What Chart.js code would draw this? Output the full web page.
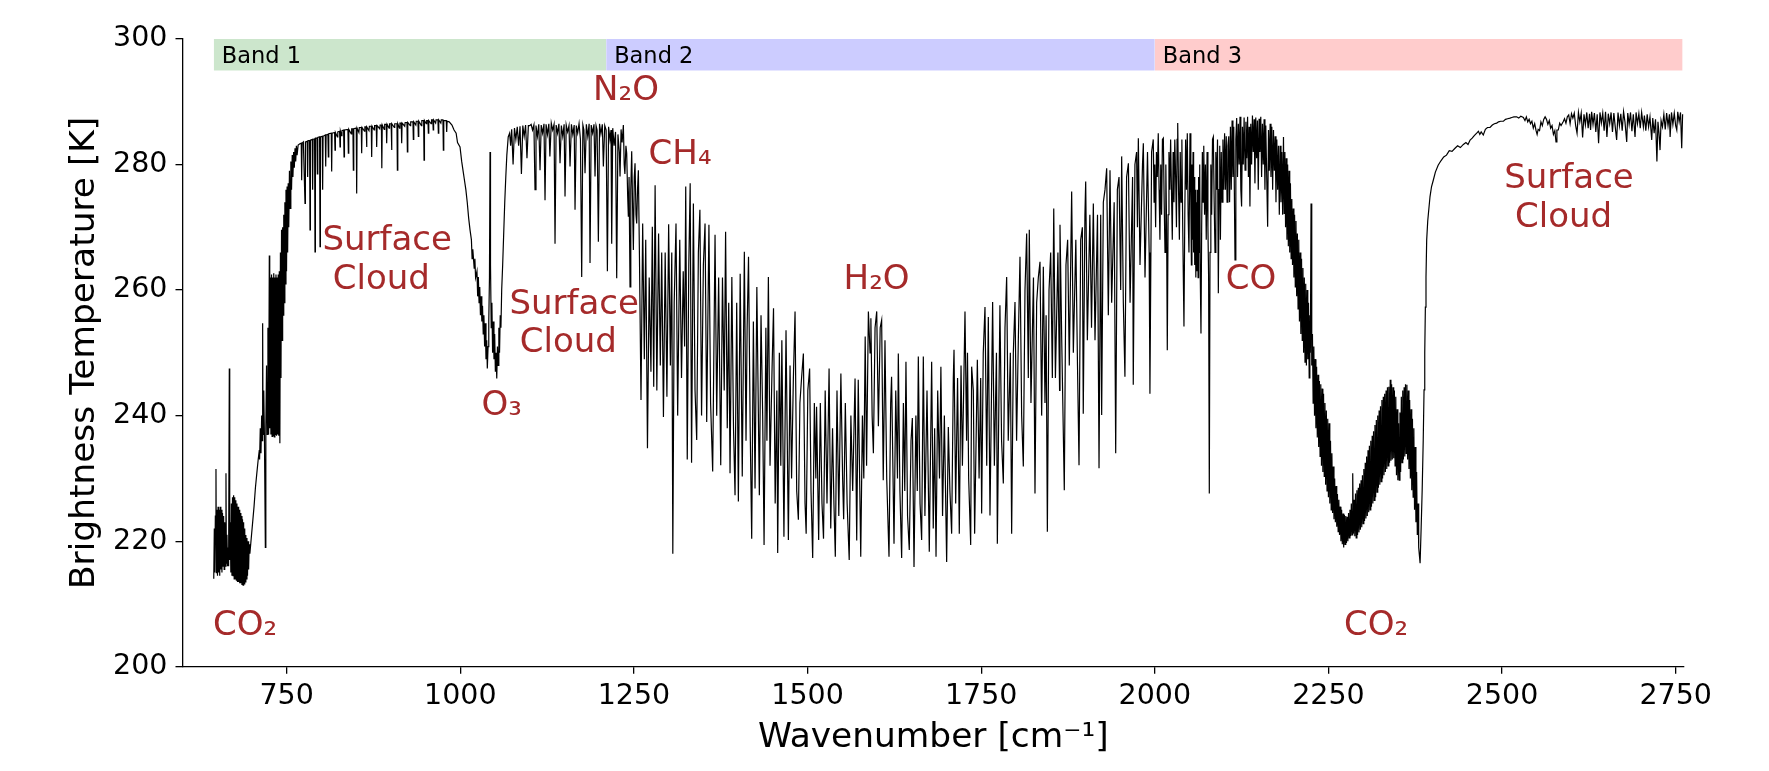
<!DOCTYPE html>
<html><head><meta charset="utf-8">
<script src="https://cdn.jsdelivr.net/npm/chart.js@4/dist/chart.umd.min.js"></script>
<style>html,body{margin:0;padding:0;background:#fff;}#wrap{width:1769px;height:771px;}</style>
</head><body><div id="wrap"><canvas id="c" width="1769" height="771"></canvas></div>
<script>
// ---------- data ----------
// spectrum points: [wavenumber cm^-1, brightness temperature K]
const band1Spectrum = [[645,214],[645.8,222],[646.5,215],[647.3,224],[648.2,231.5],[648.8,215],[649.6,225],[650.4,214.5],[651.2,225.5],[652,215],[652.8,225],[653.6,214.5],[654.4,225.5],[655.2,215.5],[656,225],[656.8,215],[657.6,224.5],[658.4,216],[659.2,224],[660,215.5],[660.8,223],[661.6,216],[662.6,230.8],[663.2,216.5],[664,221],[664.8,216],[665.6,219],[666.4,216],[667.4,247.5],[668,217],[668.8,223],[669.6,215],[670.4,226],[671.2,214.5],[672,227],[672.8,214.5],[673.6,227.3],[674.4,214],[675.2,227],[676,214],[676.8,226.5],[677.6,213.8],[678.4,226],[679.2,213.5],[680,225.5],[680.8,213.5],[681.6,225],[682.4,213.3],[683.2,224.5],[684,213.3],[684.8,224],[685.6,213],[686.4,223.5],[687.2,213],[688,223],[688.8,213.2],[689.6,222],[690.4,213.5],[691.2,221],[692,214],[692.8,220.5],[693.6,214.5],[694.4,220],[695.2,215.5],[696,219.5],[697,218],[699,220.5],[701,223],[703,225.5],[705,228.5],[707,230.8],[709,233],[710.6,234.5],[711,233],[712,238],[713,234],[714,240],[715,236],[715.4,254.7],[716,237],[717,244],[718,236.5],[719.3,219],[720,238],[721,248],[722,237],[723,254],[724,237],[725,265.5],[725.6,238],[726.5,262],[727.3,237],[728.2,262.5],[729,236.7],[729.8,262],[730.6,236.8],[731.4,262.7],[732.2,236.6],[733,262],[733.8,237],[734.6,262.5],[735.4,236.8],[736.2,262],[737,237],[737.8,262.5],[738.6,236.8],[739.4,263],[740.2,235.6],[741,266],[741.8,246],[742.6,269.6],[743.4,252],[744.2,270],[745,256],[745.8,272],[746.6,258],[747.4,274],[748.2,261],[749,276],[749.8,263],[750.6,276.5],[751.4,266],[752.2,277],[753,270],[754,279],[755,273],[756,280.5],[757,276],[758,281.5],[759,278],[760,282],[761,279.5],[762,282.6],[763,280.5],[764,283],[765,281.5],[766.5,283.1],[769,283.3],[771,283.4],[771.6,277.5],[772.2,283.4],[774,283.6],[776.4,273.8],[777,283.6],[779.5,283.7],[780.2,278],[780.8,283.8],[783,283.8],[783.6,269.6],[784.2,283.9],[786.8,284],[787.4,276],[788,284],[790.2,284.1],[790.8,266.1],[791.4,284.2],[793.6,284.2],[794.2,278.5],[794.8,284.3],[797.4,284.4],[798,266.9],[798.6,284.4],[801.2,284.5],[801.8,276],[802.4,284.5],[805.6,284.7],[806.2,279.7],[806.8,284.7],[809.4,284.8],[810,281.2],[810.6,284.9],[814.2,285],[814.8,278.9],[815.4,285],[819,285.1],[819.6,282.3],[820.2,285.1],[823,284.4],[823.6,285.2],[826.2,285.3],[826.8,282.8],[827.4,285.3],[829,284.6],[829.6,285.4],[832,285.5],[832.6,281.2],[833.2,285.5],[838.2,285.6],[838.8,281.8],[839.4,285.6],[843,284.9],[843.6,285.7],[845.4,285.7],[846,279.1],[846.6,285.7],[850.2,285.8],[850.8,275.4],[851.4,285.8],[854,285.1],[854.6,285.9],[857.4,285.9],[858,281.8],[858.6,285.9],[862,285.3],[862.6,286],[864.4,286],[865,282.8],[865.6,286],[868.5,285.4],[869.1,286.1],[871.8,286.1],[872.4,281.2],[873,286.1],[876,285.5],[876.6,286.2],[879,286.2],[879.6,282.8],[880.2,286.2],[884,285.7],[884.6,286.3],[886.4,286.3],[887,279.4],[887.6,286.3],[890.5,285.6],[891.1,286.4],[893.4,286.4],[894,283.4],[894.6,286.4],[897.5,285.8],[898.1,286.5],[900.4,286.5],[901,282.3],[901.6,286.5],[905,285.9],[905.6,286.5],[908.8,286.5],[909.4,279.1],[910,286.5],[912.5,285.8],[913.1,286.6],[915,286.6],[915.6,283.4],[916.2,286.6],[920,286.1],[920.6,286.7],[923.2,286.7],[923.8,282],[924.4,286.7],[928,286.2],[928.6,286.8],[931.8,286.8],[932.4,284],[933,286.8],[936,286.3],[936.6,286.9],[939,286.9],[939.6,284.5],[940.2,286.9],[944,286.2],[944.6,287],[947.2,287],[947.8,280.7],[948.4,287],[951,286.5],[951.6,287],[953.4,287],[954,285],[954.6,287],[958,286.5],[958.6,287.1],[960.4,287.1],[961,285.5],[961.6,287.1],[964.5,286.6],[965.1,287.1],[967.8,287.1],[968.4,285],[969,287.1],[972,286.6],[972.6,287.1],[975,287.1],[975.6,282.3],[976.2,287],[979.8,287],[980.4,285.2],[981,286.9],[984,286.8],[988,286.3],[991,285.5],[994,285],[996,283.5],[999.6,282.8],[1002,280.5],[1004,279],[1006,277.5],[1008,276],[1010,274],[1012,271.5],[1014,269.6],[1016,268],[1017,265],[1018,266.5],[1020,263.5],[1021,265],[1022,262],[1024,263],[1025,259],[1026,262.1],[1027,258],[1028,260.5],[1029,256],[1030,259],[1031,255],[1032,257.5],[1033,253],[1034,256],[1035,251],[1036,254.7],[1037,249],[1038,252],[1038.9,247.5],[1040,251],[1041,255],[1042,262],[1042.8,282],[1043.5,264],[1044.5,254],[1045.5,258],[1046.5,250],[1047.5,255],[1048.5,249],[1049.5,253],[1050.5,247],[1051.5,250],[1052.5,245.9],[1053.5,251],[1054.5,248],[1055.5,254],[1056.5,250],[1057.5,256],[1058.5,254],[1059.6,260],[1061,264],[1062.5,269],[1064,274],[1065.5,278],[1067,281.5],[1069,284.4],[1071,285],[1072.5,283],[1074,285.6],[1076,280],[1078,285.8],[1080,284],[1082,286],[1084,283],[1086,286.1],[1088,278.5],[1090,286.2],[1092,284.5],[1094,286.3],[1096,281],[1098,286.2],[1100,286.2],[1102,286.4],[1104,285.5],[1106,286.3],[1107.6,276],[1109,286.2],[1111,284.5],[1113,286.4],[1114.8,279.1],[1116.5,286.3],[1118.5,285],[1120.5,286.5],[1122,274.3],[1123.5,286.4],[1125.5,284.8],[1127.5,286.5],[1129,281.3],[1131,286.6],[1133,285.5],[1135,286.4],[1136.4,267.4],[1138,286.3],[1140,285],[1142,286.5],[1143.6,280.2],[1145.5,286.2],[1147.5,284.5],[1149.5,286.4],[1150.8,274.9],[1152.5,286.3],[1154.5,285.2],[1156.5,286.2],[1158,279.7],[1160,286.4],[1162,284.8],[1164,286.3],[1165.2,272.8],[1167,286.2],[1169,285],[1171,286.5],[1173,284],[1174.8,262.1],[1176.5,286.3],[1178,285.5],[1179.6,278.6],[1181.5,286.4],[1183.5,284.5],[1185.5,286.5],[1186.8,264.3],[1188.5,286.3],[1190.5,285],[1192.5,286.4],[1194,278.1],[1195.5,286.2],[1197,285.5],[1198.8,267.7],[1200.5,286.5],[1202.5,284.9],[1204.5,286.4],[1206,279.7],[1208,286.2],[1210,285.5]];

const band2Spectrum = [[1211.8,263],[1213.5,286],[1215.5,284],[1217,285.5],[1218,267.4],[1219.5,285.8],[1221.5,283],[1223.5,285.2],[1225.2,261.9],[1227,284.8],[1229,282],[1230,278.1],[1231.5,285.6],[1233,283.5],[1234.8,286.3],[1236,280],[1237,278.5],[1238.5,283],[1239.6,281.8],[1241,275],[1242,271.7],[1243,278],[1244.4,260.5],[1245.5,276],[1246.8,282.1],[1248,274],[1249.2,266.4],[1250.5,278],[1251.6,280.2],[1253,272],[1254,270.6],[1255.2,276],[1256.4,279.1],[1258,265],[1260.2,242.5],[1262.6,270.6],[1265,249],[1267,268],[1269.5,234.8],[1272,262],[1274.5,247],[1276.5,270.1],[1278.5,244.6],[1280.5,276.7],[1283,244],[1285.5,269],[1288,248],[1290,266],[1292.5,239.8],[1295,266],[1297.5,243],[1300,270.5],[1302.5,248],[1304.5,266],[1306,218],[1308,258],[1310.6,270.6],[1313,240],[1316,268],[1318.5,246],[1321,263],[1323,251],[1324.6,276.5],[1326.8,233],[1329,264],[1331,277],[1333,232.5],[1335.6,273.8],[1338,244],[1340.4,236.1],[1342.8,266],[1345,272.8],[1347.4,240],[1350,264],[1352.4,270.6],[1354.8,239],[1358,270.4],[1360.4,242],[1363.4,231.1],[1366.8,268.8],[1369.2,240],[1372,262],[1375,232.1],[1377.5,262],[1380,244],[1382,269.3],[1384.4,238],[1386.5,258],[1388.4,230.8],[1391,262.1],[1393.4,238],[1395.6,227.3],[1398,258],[1400.4,226.3],[1403,262.6],[1406,230.3],[1409,266.1],[1411.4,236],[1413,254],[1415,265.3],[1417.4,238],[1419.6,220.4],[1422,255],[1424.4,228.4],[1427,260.5],[1430.6,227.3],[1433,256],[1435.4,240],[1437.4,219.4],[1440,254],[1441.5,236],[1443.6,262.1],[1446,232],[1449,248],[1451,257.1],[1453.4,226],[1455.8,244],[1457,218.1],[1459.4,250],[1461.5,232],[1463,252],[1466,220.7],[1469,253.6],[1472.4,220.2],[1474.8,248],[1477,230],[1479.6,246],[1482,256.6],[1484.4,228],[1486.8,223.4],[1489,242],[1491.4,246],[1494,249.9],[1496.4,226],[1498,221.2],[1500.4,244],[1503,247.5],[1505,228],[1507.4,217.3],[1509.8,242],[1512,230],[1513,241.4],[1516,220.2],[1518.4,242],[1520.8,226],[1523,220.4],[1525.4,244],[1528,226],[1531,247.5],[1533.4,222],[1536,238],[1538,226],[1540,217.5],[1542.4,244],[1545,224],[1548,246.7],[1550.5,230],[1552,223.5],[1554.4,242],[1557,226],[1560,217],[1562.4,240],[1565,228],[1568.4,245.9],[1570.8,220.1],[1573,245.7],[1576.6,217.5],[1579,240],[1581,230],[1583,252.6],[1585,232],[1587.6,256.6],[1590,250],[1591.2,255.5],[1593,240],[1594.8,234],[1597.2,254],[1599.6,256.6],[1602,238.3],[1604.6,254],[1606.7,255.2],[1609,229.7],[1611.5,252],[1614,230],[1617.3,217.5],[1619.7,242],[1621,246.2],[1624.5,219.6],[1627,244],[1629.5,230],[1630.7,249.9],[1633,228],[1635.5,217.3],[1638,242],[1640,228],[1641.7,248.6],[1644,224],[1646.5,218.6],[1649,236],[1650.9,239.6],[1653.3,215.9],[1656,240],[1658,228],[1659.5,249.4],[1662,226],[1664.3,220.2],[1666.7,249.4],[1669,224],[1672,244],[1675.3,218.3],[1678.7,248.6],[1681,222],[1683,238],[1685,217.5],[1687.4,244],[1690,230],[1692,247.8],[1694.4,224],[1697,240],[1700.3,216.7],[1702.7,238.2],[1705,228],[1707.5,221.2],[1709.9,246],[1710.9,250.5],[1713.3,226],[1716,246],[1718.5,221.2],[1721,248],[1723,232],[1726.7,256.6],[1729,236],[1730.3,250],[1732,230],[1734.9,219.4],[1736.3,247.8],[1738.7,244],[1740.6,221.2],[1744.5,248.9],[1747,230],[1749.3,246],[1750.7,224.4],[1753,250],[1755.5,257.3],[1758,232],[1760.3,255.7],[1762.7,224.1],[1766.5,258.1],[1769,232],[1772,250],[1773.3,219.6],[1777,257.6],[1779.4,236],[1781.9,229.2],[1784.3,254],[1786.7,262.1],[1789,236],[1792,250],[1793.9,221.2],[1796.3,250],[1798.7,258.1],[1801,236],[1803.5,252],[1805.9,265.3],[1808.3,240],[1810.7,231.9],[1813.1,260],[1815.5,269],[1817.9,246],[1819.3,269.6],[1821.7,242],[1825.3,262],[1827.5,227.6],[1829.9,258],[1832.3,262],[1834.7,264.5],[1837.1,240],[1839.5,263.7],[1841.9,242],[1843.5,256],[1845.3,221.5],[1847.7,260],[1850.1,266],[1852.5,246],[1854.5,273],[1856.9,246],[1860.5,266],[1862.9,244],[1863.5,270.4],[1866,252],[1869.7,228.1],[1872.1,264],[1874.5,268],[1876.9,248],[1880.3,275.7],[1882.7,250],[1886.3,268],[1888.7,248],[1890.9,232.1],[1893.3,268],[1895.7,270],[1897,240.3],[1899.4,272],[1900.5,277.3],[1902.9,252],[1906.5,272],[1908.9,254],[1911.5,273.8],[1913.9,252],[1917.5,272],[1919.7,231.6],[1922.1,272],[1923.5,240.1],[1925.9,274],[1928.3,276],[1930.7,279.4],[1933.1,256],[1935.5,279.1],[1937.9,258],[1941.5,274],[1943.7,234],[1946.1,276],[1948.5,278],[1950.9,260],[1952.3,281.3],[1954.7,258],[1957,246.2],[1959.4,278],[1962,280.2],[1964.4,258],[1968,278],[1969,244.9],[1971.4,280],[1973.8,282],[1975,270],[1976.3,284.2],[1978.7,264],[1982.3,280],[1983.5,283.4],[1985.9,262],[1989.5,282],[1991.9,266],[1993,243.5],[1995.4,282],[1997.8,284],[1999,274],[2000,280]];

const band3Spectrum = [[2001.2,270],[2002.4,282],[2003.6,278],[2005,285],[2006.2,276],[2007.4,268],[2008.6,280],[2009.8,272],[2011,284],[2012.3,284.2],[2013.5,274],[2014.7,266],[2015.9,280],[2017,270],[2018,250.4],[2019.2,272],[2020.4,282],[2021.6,276],[2022.8,284],[2024,276],[2025.2,268],[2026.4,282],[2027.6,274],[2028.8,284],[2030,278],[2031.2,270],[2032.1,284],[2033,286.6],[2034.2,276],[2035.4,268],[2036.6,282],[2037.8,274],[2039,284],[2040.2,270],[2041.1,262],[2042,254.2],[2043.2,272],[2044.4,284],[2045.6,276],[2046.8,285],[2048,272],[2049.2,266],[2050.7,285],[2051.9,274],[2052.7,264],[2053.5,280],[2054.3,268],[2055.1,282],[2055.9,266],[2056.7,278],[2057.5,264],[2058.3,276],[2059.1,262],[2059.9,274],[2060.7,263],[2061.5,276],[2062.3,262],[2063.1,278],[2063.9,266],[2064.7,280],[2065.5,262],[2066.5,253.1],[2067.5,270],[2068.5,282],[2069.5,274],[2070.5,283],[2071.7,272],[2072.9,280],[2074.1,268],[2075.3,282],[2076.5,270],[2077.5,262],[2078.5,227.6],[2079.5,266],[2080.7,280],[2081.9,272],[2083.1,284],[2084.3,284.4],[2085.5,274],[2086.7,266],[2087.9,282],[2089.1,276],[2090.3,284],[2091.5,259.5],[2092.5,276],[2093.5,283],[2094.5,268],[2095.7,282],[2096.9,274],[2098.1,284],[2099.3,276],[2100.5,285],[2101.7,276],[2102.9,284.5],[2104.1,274],[2105.3,283],[2106.5,284.5],[2107.7,274],[2108.9,286],[2110.1,276],[2111.3,287],[2112.5,278],[2113.7,286],[2115.5,264.8],[2116.7,284],[2117.9,287.4],[2119.1,278],[2120.3,286.5],[2121.5,280],[2122.7,287.6],[2123.9,276],[2125,273.3],[2126.2,286],[2127.4,280],[2128.6,287.5],[2130,279.1],[2131.2,286.8],[2132.4,281],[2133.6,287.6],[2134.8,278],[2135.8,286],[2137,273.3],[2138.2,286.5],[2139.4,280],[2140.6,287.8],[2141.8,282],[2143,287.2],[2144.2,277],[2145.4,287.5],[2146.6,281],[2147.8,287],[2149,276],[2150.2,287.3],[2151.4,282],[2152.6,287.6],[2153.8,278],[2155,286.5],[2156.2,280],[2157.4,287.2],[2158.6,276],[2159.8,286.2],[2161,279],[2162.5,270.1],[2163.7,285.5],[2164.9,279],[2166.1,286.5],[2167.3,278],[2168.5,286],[2169.7,276],[2170.9,285.5],[2172.1,279],[2173.3,284.5],[2174.5,274],[2175.7,284],[2176.9,276],[2178.1,283],[2179.3,272],[2180.5,283],[2181.7,274],[2182.9,282],[2184.1,272],[2185.3,284.4],[2186.3,272.2],[2187.3,282],[2188.3,270],[2189.3,281],[2190.3,268],[2191.3,280],[2192.3,267],[2193.3,279],[2194.3,266],[2195.3,277],[2196.3,265],[2197.3,274.5],[2198.3,264],[2199.3,273],[2200.3,262],[2201.3,272],[2202.3,260.5],[2203.3,271],[2204.3,259],[2205.3,269],[2206.3,257],[2207.3,268],[2208.3,255],[2209.3,266],[2210.3,253],[2211.3,265],[2212.3,252],[2213.3,263.5],[2214.3,250],[2215.3,262],[2216.3,248.5],[2217.3,261],[2218.3,248],[2219.3,260],[2220.3,249],[2221.3,258],[2222.3,246],[2223.3,256],[2224,250],[2225,273.8],[2226,248],[2227,253],[2228,242],[2229,251],[2230,240],[2231,249],[2232,238],[2233,247.8],[2234,236.5],[2235,246.5],[2236,235],[2237,245.5],[2238,233.5],[2239,245],[2240,232],[2241,244.3],[2242,231],[2243,243.5],[2244,230.3],[2245,242],[2246,229],[2247,240.8],[2248,228],[2249,239.5],[2250,227],[2251,238.8],[2252,226],[2253,236],[2254,225],[2255,234],[2256,224.5],[2257,231.9],[2258,223.5],[2259,230],[2260,223],[2261,228.8],[2262,222.3],[2263,227.5],[2264,221.5],[2265,226.6],[2266,221],[2267,225.5],[2268,220],[2269,225],[2270,219.5],[2271,224.4],[2272,219],[2273,224.2],[2274,219.5],[2275,224],[2276,219.7],[2277,223.9],[2278,220],[2279,224.5],[2280,220.5],[2281,225],[2282,220.8],[2283,226],[2284,221],[2285,230.8],[2286,221.2],[2287,226.6],[2288,220.8],[2289,227.6],[2290,220.5],[2291,228.1],[2292,221],[2293,228.5],[2294,221.4],[2295,229.2],[2296,221.8],[2297,229.7],[2298,222.2],[2299,230.5],[2300,222.8],[2301,231.5],[2302,223.2],[2303,232.5],[2304,223.6],[2305,233.5],[2306,224],[2307,234.5],[2308,224.6],[2309,235.2],[2310,225],[2311,236],[2312,225.5],[2313,236.8],[2314,226],[2315,237.5],[2316,226.5],[2317,238.5],[2318,227],[2319,239.3],[2320,227.8],[2321,240],[2322,228.5],[2323,240.8],[2324,229],[2325,241.5],[2326,229.5],[2327,242.5],[2328,230],[2329,243],[2330,230.5],[2331,243.5],[2332,231],[2333,244],[2334,231.5],[2335,244.5],[2336,232],[2337,244.6],[2338,232.5],[2339,245.7],[2340,232.8],[2341,245],[2342,233],[2343,244.5],[2344,233.2],[2345,244],[2346,232],[2347,243],[2348,230.5],[2349,241],[2350,229.7],[2351,238.8],[2352,229.7],[2353,240.5],[2354,231],[2355,243],[2356,232.5],[2357,244],[2358,233],[2359,244.5],[2360,233.5],[2361,245],[2362,234],[2363,244.9],[2364,233],[2365,244],[2366,231.5],[2367,242.5],[2368,230],[2369,241],[2370,228.1],[2371,239.5],[2372,227],[2373,238],[2374,225],[2375,235],[2376,223],[2377,231],[2378,221],[2379,226],[2380,219],[2382,216.5],[2383.5,222],[2385,228.1],[2386.5,236],[2387.7,244.1],[2388.7,250],[2389.6,257.3],[2390.5,262],[2391.5,268],[2393,271],[2394,272.2],[2396.3,274.9],[2398.5,276.5],[2401,277.5],[2404,278.8],[2408,279.9],[2412,280.6],[2416,281.2],[2420,281.5],[2424,282.2],[2428,282.1],[2432.3,282.6],[2436,283],[2440,282.7],[2444.3,283.2],[2448,283.5],[2451,283.2],[2454,283.9],[2457,284.2],[2460,284.6],[2463.5,285],[2466,285.3],[2468,284.8],[2470,285.2],[2473,284.7],[2476,285.6],[2479,285.9],[2482.7,285.9],[2486,286.3],[2489,286.5],[2492.3,286.6],[2495,286.8],[2498,286.9],[2502,286.9],[2505,287.2],[2508,287.3],[2511.5,287.4],[2514,287.5],[2517,287.6],[2521,287.6],[2524,287.4],[2527,287.7],[2530.7,287.5],[2533,287],[2535,287.6],[2537,286.8],[2539,287.2],[2541,286.5],[2543,286.9],[2545,285.8],[2547,286.5],[2549,285.4],[2550.5,284.8],[2552,285.6],[2554,285.4],[2556,286.8],[2558,286.2],[2560,287.2],[2562,287.6],[2564,287.2],[2566,286.4],[2568,287],[2570,285.8],[2572,286.2],[2574,284.8],[2576,285.4],[2577.7,283.6],[2579,285.5],[2581,285.5],[2583,286.6],[2585,286.2],[2588,286.8],[2590,287.3],[2592,286.6],[2594,287.6],[2596,287.9],[2598,286.5],[2600,288.1],[2602,287.4],[2604,288.2],[2606,286.2],[2608,285],[2610,288.3],[2612,286.8],[2614,288.2],[2616,284.3],[2618,288],[2620,286.3],[2622,288.3],[2624,285.8],[2626,288.1],[2627.5,285.5],[2629,288.4],[2631,286.4],[2633,288.2],[2635,285.2],[2637,288],[2639,283.4],[2641,288.3],[2643,286.6],[2645,288.2],[2647,285.4],[2649,288.4],[2651,284.4],[2653,288.1],[2655,286.5],[2657,288.3],[2659,285.2],[2661,288.2],[2663,286],[2665,283.9],[2667,288.3],[2669,286.2],[2671,288.1],[2673,285.4],[2675,288.4],[2677,286.8],[2679.5,283.6],[2681,288.2],[2683,286.4],[2685,288.3],[2687,285.3],[2689,288],[2691.5,284.4],[2693,288.3],[2695,286.5],[2697,288.1],[2699,285.8],[2701,288.3],[2703.5,286],[2705,287.8],[2707,285.4],[2709,288],[2711,286],[2713,287.6],[2715.5,283.9],[2717,287.4],[2719,285],[2721,287.2],[2723,280.5],[2724.5,286.8],[2726,285],[2727.5,282.3],[2729,287],[2731,286],[2733,288],[2735,285.6],[2737,288.2],[2739,286.2],[2741,288],[2742,284.4],[2744,288.3],[2746,286.4],[2748,288.2],[2750,286.2],[2751.6,285.5],[2753,288.4],[2755,286.8],[2757,288.3],[2758.7,282.6],[2760,288]];

// instrument bands
const bandNames = ['Band 1', 'Band 2', 'Band 3'];
const bandStart = [645, 1210, 2000];
const bandEnd = [1210, 2000, 2760];
const bandLow = 295;
const bandHigh = 300;

// gas / surface annotations (one entry per text line)
const annotationText = ['CO\u2082', 'Surface', 'Cloud', 'O\u2083', 'Surface', 'Cloud', 'N\u2082O', 'CH\u2084', 'H\u2082O', 'CO', 'CO\u2082', 'Surface', 'Cloud'];
const annotationWavenumber = [690, 894.7, 886.2, 1059.6, 1164, 1155.5, 1238.6, 1316.4, 1599.4, 2138.5, 2318.5, 2596.4, 2588.5];
const annotationTemperature = [207, 268.2, 262, 242, 258.1, 252, 292.1, 282.05, 262, 262, 207, 278.2, 272];

// axes
const xTickValues = [750, 1000, 1250, 1500, 1750, 2000, 2250, 2500, 2750];
const yTickValues = [200, 220, 240, 260, 280, 300];
const xRange = [600, 2762];
const yRange = [200, 300];

// ---------- styles ----------
const FONT = "'DejaVu Sans', 'Liberation Sans', sans-serif";
const bandColors = ['rgba(0,128,0,0.2)', 'rgba(0,0,255,0.2)', 'rgba(255,0,0,0.2)'];
const annotationColor = '#a52a2a';

const spectrum = [...band1Spectrum, ...band2Spectrum, ...band3Spectrum].map(([x, y]) => ({x, y}));

const bandDatasets = bandNames.map((name, i) => ({
  type: 'line',
  label: name,
  data: [{x: bandStart[i], y: bandHigh}, {x: bandEnd[i], y: bandHigh}],
  fill: {value: bandLow},
  backgroundColor: bandColors[i],
  borderWidth: 0,
  pointRadius: 0,
  order: 2
}));

const textPlugin = {
  id: 'textPlugin',
  afterDatasetsDraw(chart) {
    const {ctx, scales: {x, y}} = chart;
    ctx.save();
    ctx.fillStyle = '#000';
    ctx.font = `22.5px ${FONT}`;
    ctx.textAlign = 'left';
    ctx.textBaseline = 'middle';
    bandNames.forEach((n, i) => {
      ctx.fillText(n, x.getPixelForValue(bandStart[i]) + 8, y.getPixelForValue((bandLow + bandHigh) / 2) + 2);
    });
    ctx.fillStyle = annotationColor;
    ctx.font = `34px ${FONT}`;
    ctx.textAlign = 'center';
    annotationText.forEach((t, i) => {
      ctx.fillText(t, x.getPixelForValue(annotationWavenumber[i]), y.getPixelForValue(annotationTemperature[i]) + 3);
    });
    ctx.restore();
  }
};

new Chart(document.getElementById('c'), {
  type: 'line',
  data: {
    datasets: [
      ...bandDatasets,
      {
        label: 'Spectrum',
        data: spectrum,
        borderColor: '#000',
        borderWidth: 1.2,
        pointRadius: 0,
        fill: false,
        tension: 0,
        order: 1
      }
    ]
  },
  options: {
    responsive: false,
    animation: false,
    devicePixelRatio: 1,
    layout: {padding: {left: 0, right: 85, top: 39, bottom: 0}},
    plugins: {legend: {display: false}, tooltip: {enabled: false}},
    scales: {
      x: {
        type: 'linear',
        min: xRange[0], max: xRange[1],
        afterBuildTicks: s => { s.ticks = xTickValues.map(v => ({value: v})); },
        afterFit: s => { s.height = 104.3; },
        ticks: {font: {family: FONT, size: 28.5}, color: '#000', padding: 5.5, maxRotation: 0, autoSkip: false, callback: v => String(v)},
        grid: {display: true, drawOnChartArea: false, drawTicks: true, tickLength: 7, color: '#000', lineWidth: 1.3},
        border: {display: true, color: '#000', width: 1.3},
        title: {display: true, text: 'Wavenumber [cm\u207B\u00B9]', font: {family: FONT, size: 34.4}, color: '#000', padding: {top: 0, bottom: 12}}
      },
      y: {
        type: 'linear',
        min: yRange[0], max: yRange[1],
        afterBuildTicks: s => { s.ticks = yTickValues.map(v => ({value: v})); },
        afterFit: s => { s.width = 182.5; },
        ticks: {font: {family: FONT, size: 28.5}, color: '#000', padding: 8, callback: v => String(v)},
        grid: {display: true, drawOnChartArea: false, drawTicks: true, tickLength: 7, color: '#000', lineWidth: 1.3},
        border: {display: true, color: '#000', width: 1.3},
        title: {display: true, text: 'Brightness Temperature [K]', font: {family: FONT, size: 34.4}, color: '#000', padding: {top: 64.5, bottom: 0}}
      }
    }
  },
  plugins: [textPlugin]
});
</script>
</body></html>
